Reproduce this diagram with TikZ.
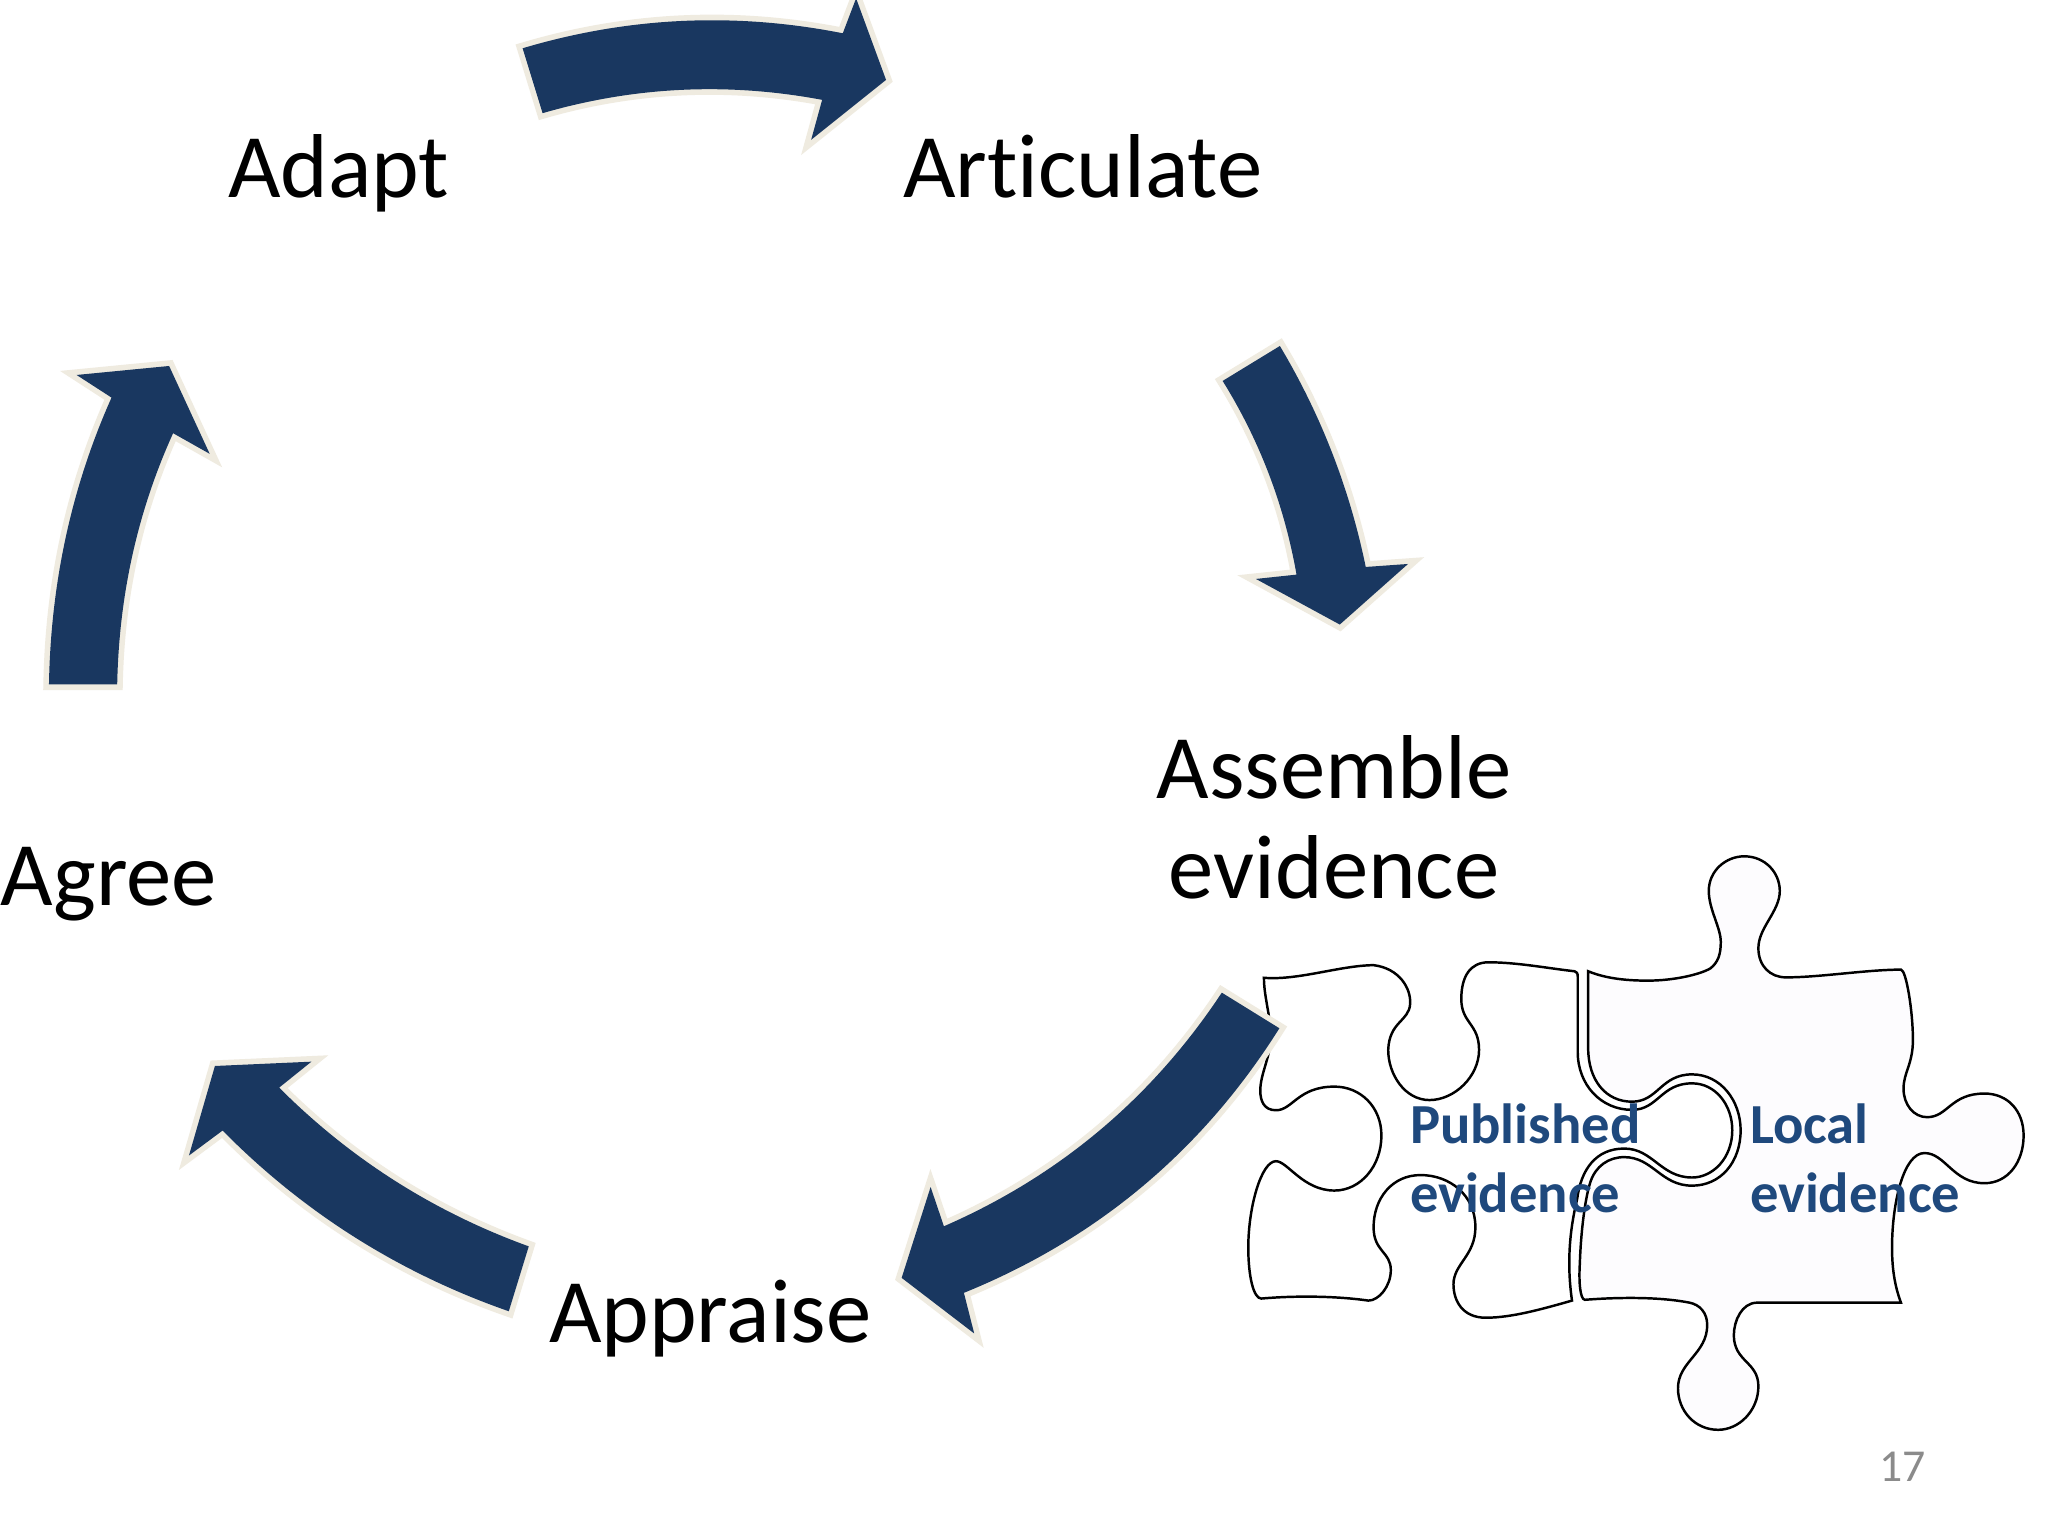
\documentclass[tikz,border=0pt]{standalone}
\usepackage{fontspec}
\setmainfont[Ligatures=NoCommon]{Carlito}
\usetikzlibrary{calc}
\definecolor{navy}{HTML}{193760}
\definecolor{cream}{HTML}{EFEBE0}
\definecolor{labelblue}{HTML}{1F497D}
\definecolor{pagegray}{HTML}{8B8B8B}
\definecolor{pieceTint}{HTML}{FDFCFE}
\def\thru(#1)(#2)(#3){.. controls ($1.3333*(#2)-0.3333*(#3)$) and ($1.3333*(#2)-0.3333*(#1)$) .. (#3)}
\tikzset{
  bigarrow/.style={preaction={draw=cream,line width=3.2pt,line join=miter},fill=navy},
  piece/.style={draw=black,line width=0.7pt},
  steplabel/.style={inner sep=0pt,outer sep=0pt,text=black,font=\fontsize{25.8pt}{28.4pt}\selectfont},
  pieceLabel/.style={inner sep=0pt,outer sep=0pt,text=labelblue,align=left,font=\bfseries\fontsize{16.1pt}{19.5pt}\selectfont},
}
\begin{document}
\begin{tikzpicture}[x=0.01cm,y=-0.01cm]
\useasboundingbox (0,0) rectangle (2048,1536);
\fill[white] (0,0) rectangle (2048,1536);
\clip (0,0) rectangle (2048,1536);
% puzzle
\begin{scope}[shift={(1230,840)},x=0.0052165cm,y=-0.0040816cm]
\path[piece,fill=white] (65,338) .. controls (130,345) and (210,308) .. (275,307)
 .. controls (325,315) and (347,365) .. (345,402)
 .. controls (343,445) and (305,445) .. (303,515)
 .. controls (303,575) and (335,638) .. (382,638)
 .. controls (430,638) and (477,580) .. (477,515)
 .. controls (477,450) and (443,450) .. (443,390)
 .. controls (443,335) and (460,300) .. (495,300)
 .. controls (550,300) and (610,315) .. (660,322)
 .. controls (664,323) and (666,327) .. (666,335)
 -- (666,520)
 .. controls (666,600) and (710,662) .. (770,662)
 .. controls (820,662) and (825,597) .. (885,597)
 .. controls (930,597) and (962,650) .. (962,712)
 .. controls (962,780) and (925,828) .. (885,828)
 .. controls (825,828) and (810,757) .. (755,757)
 .. controls (700,757) and (672,810) .. (665,880)
 .. controls (650,960) and (645,1040) .. (655,1130)
 .. controls (600,1150) and (540,1172) .. (490,1172)
 .. controls (445,1172) and (428,1130) .. (428,1090)
 .. controls (428,1040) and (470,1020) .. (470,950)
 .. controls (470,870) and (420,822) .. (365,822)
 .. controls (310,822) and (275,880) .. (275,950)
 .. controls (275,1010) and (308,1010) .. (308,1055)
 .. controls (308,1095) and (285,1130) .. (265,1130)
 .. controls (200,1118) and (120,1118) .. (60,1125)
 .. controls (45,1125) and (35,1070) .. (35,1000)
 .. controls (35,900) and (60,788) .. (88,788)
 .. controls (110,788) and (140,860) .. (200,860)
 .. controls (250,860) and (290,800) .. (290,725)
 .. controls (290,655) and (250,605) .. (200,605)
 .. controls (130,605) and (120,663) .. (88,663)
 .. controls (65,663) and (58,640) .. (58,615)
 .. controls (58,570) and (80,530) .. (78,470)
 .. controls (75,420) and (65,380) .. (65,338) -- cycle;
\path[piece,fill=pieceTint] (686,322) .. controls (720,340) and (760,345) .. (800,345)
 .. controls (850,345) and (900,330) .. (920,315)
 .. controls (935,300) and (940,280) .. (940,250)
 .. controls (940,215) and (917,170) .. (917,125)
 .. controls (917,75) and (950,40) .. (985,40)
 .. controls (1025,40) and (1053,80) .. (1053,125)
 .. controls (1053,175) and (1012,215) .. (1012,265)
 .. controls (1012,310) and (1035,337) .. (1065,337)
 .. controls (1130,337) and (1220,318) .. (1285,318)
 .. controls (1295,318) and (1308,420) .. (1308,490)
 .. controls (1308,550) and (1290,570) .. (1290,610)
 .. controls (1290,650) and (1310,680) .. (1335,680)
 .. controls (1375,680) and (1380,622) .. (1445,622)
 .. controls (1490,622) and (1520,665) .. (1520,725)
 .. controls (1520,790) and (1490,842) .. (1445,842)
 .. controls (1385,842) and (1370,768) .. (1330,768)
 .. controls (1290,768) and (1268,890) .. (1268,1000)
 .. controls (1268,1060) and (1275,1100) .. (1285,1135)
 -- (1010,1135)
 .. controls (980,1135) and (965,1180) .. (965,1215)
 .. controls (965,1280) and (1012,1280) .. (1012,1340)
 .. controls (1012,1400) and (975,1447) .. (935,1447)
 .. controls (890,1447) and (858,1400) .. (858,1345)
 .. controls (858,1280) and (914,1260) .. (914,1190)
 .. controls (914,1160) and (900,1140) .. (880,1135)
 .. controls (820,1120) and (740,1122) .. (680,1128)
 .. controls (670,1128) and (668,1080) .. (670,1040)
 .. controls (672,960) and (680,880) .. (690,840)
 .. controls (700,800) and (725,778) .. (755,778)
 .. controls (810,778) and (825,848) .. (885,848)
 .. controls (940,848) and (978,790) .. (978,712)
 .. controls (978,640) and (940,575) .. (885,575)
 .. controls (825,575) and (820,642) .. (770,642)
 .. controls (720,642) and (686,590) .. (686,510) -- cycle;
\end{scope}
% arrows
\begin{scope}[shift={(500,0)},x=0.003333cm,y=-0.003333cm]
\path[bigarrow] (68,145) \thru(68,145)(546,63)(1030,100) -- (1070,-5) -- (1160,240) -- (935,420) -- (968,300) \thru(968,300)(545,270)(128,340) -- cycle;
\end{scope}
\begin{scope}[shift={(1200,330)},x=0.003333cm,y=-0.003333cm]
\path[bigarrow] (240,48) \thru(240,48)(397,369)(498,712) -- (625,703) -- (420,885) -- (168,748) -- (290,735) \thru(290,735)(207,433)(68,153) -- cycle;
\end{scope}
\begin{scope}[shift={(890,980)},x=0.003333cm,y=-0.003333cm]
\path[bigarrow] (997,38) \thru(997,38)(631,451)(162,740) -- (122,622) -- (35,895) -- (253,1062) -- (222,940) \thru(222,940)(760,619)(1170,145) -- cycle;
\end{scope}
\begin{scope}[shift={(170,1050)},x=0.003333cm,y=-0.003333cm]
\path[bigarrow] (1078,590) \thru(1078,590)(676,393)(328,113) -- (425,35) -- (135,48) -- (57,317) -- (158,242) \thru(158,242)(556,563)(1018,785) -- cycle;
\end{scope}
\begin{scope}[shift={(30,350)},x=0.003333cm,y=-0.003333cm]
\path[bigarrow] (57,1005) \thru(57,1005)(108,560)(245,143) -- (140,75) -- (418,48) -- (540,312) -- (430,250) \thru(430,250)(308,615)(262,1005) -- cycle;
\end{scope}
% labels
\node[steplabel,anchor=base west] (adapt) at (228,197) {Adapt};
\node[steplabel,anchor=base west] (articulate) at (903,197) {Articulate};
\node[steplabel,anchor=base,align=center] (assemble) at (1334,898) {Assemble\\evidence};
\node[steplabel,anchor=base west] (agree) at (1,905) {Agree};
\node[steplabel,anchor=base west] (appraise) at (549,1342) {Appraise};
\node[pieceLabel,anchor=base west] (published) at (1410,1212) {Published\\evidence};
\node[pieceLabel,anchor=base west] (local) at (1750,1212) {Local\\evidence};
\node[inner sep=0pt,text=pagegray,anchor=base west,font=\fontsize{13pt}{15pt}\selectfont] (pagenum) at (1879,1481) {17};
\end{tikzpicture}
\end{document}
